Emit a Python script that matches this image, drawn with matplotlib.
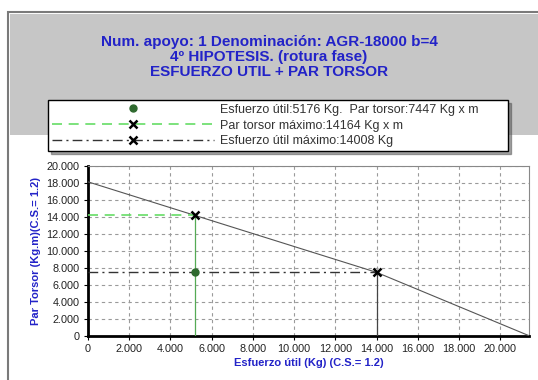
# -*- coding: UTF-8 -*-
import matplotlib
matplotlib.use('Agg')
import matplotlib.pyplot as plt
from matplotlib.patches import Rectangle
from matplotlib.lines import Line2D
from matplotlib.ticker import FuncFormatter, MultipleLocator

plt.rcParams['font.family'] = ['Liberation Sans', 'DejaVu Sans']

# datos de la curva (esfuerzo util, par torsor)
curva_x = [0, 14008, 21400]
curva_y = [18100, 7447, 0]

# punto de trabajo y maximos
esfuerzo_util = 5176
par_torsor = 7447
par_max = 14164
esfuerzo_max = 14008

titulos = ['Num. apoyo: 1 Denominación: AGR-18000 b=4',
           '4º HIPOTESIS. (rotura fase)',
           'ESFUERZO UTIL + PAR TORSOR']
etiquetas = ['Esfuerzo útil:5176 Kg.  Par torsor:7447 Kg x m',
             'Par torsor máximo:14164 Kg x m',
             'Esfuerzo útil máximo:14008 Kg']

W, H = 538, 380
fig = plt.figure(figsize=(W / 100, H / 100), dpi=100)
fig.patch.set_facecolor('white')

def fx(px):
    return px / W

def fy(py):
    return 1 - py / H

# marco y cabecera gris
fig.patches.append(Rectangle((fx(8), -0.1), 1, fy(12) + 0.1, transform=fig.transFigure,
                             facecolor='white', edgecolor='#7a7a7a', lw=1.5, zorder=-2))
fig.patches.append(Rectangle((fx(10), fy(135)), 1, fy(14) - fy(135), transform=fig.transFigure,
                             facecolor='#c6c6c6', edgecolor='none', zorder=-1))

azul = '#2323c8'
for i, t in enumerate(titulos):
    fig.text(0.5, fy(42 + 15 * i), t, ha='center', va='center', color=azul,
             fontsize=11, fontweight='bold')

# ejes
ax = fig.add_axes([fx(88), fy(335.7), fx(529) - fx(88), fy(165.7) - fy(335.7)])
ax.set_xlim(0, 21400)
ax.set_ylim(0, 20000)

ax.plot(curva_x, curva_y, color='#555555', lw=0.8, zorder=3)

# lineas auxiliares
ax.plot([0, esfuerzo_util], [par_max, par_max], color='#66dd66', lw=1.2, ls=(0, (6, 4)), zorder=3)
ax.plot([esfuerzo_util, esfuerzo_util], [0, par_max], color='#55aa55', lw=0.9, zorder=3)
ax.plot([0, esfuerzo_max], [par_torsor, par_torsor], color='#333333', lw=1.0, ls=(0, (7, 3, 1.5, 3)), zorder=3)
ax.plot([esfuerzo_max, esfuerzo_max], [0, par_torsor], color='#444444', lw=0.9, zorder=3)

ax.plot([esfuerzo_util], [par_torsor], 'o', color='#2f6a2f', ms=5, zorder=5)
ax.plot([esfuerzo_util], [par_max], 'x', color='black', ms=6, mew=1.8, zorder=5)
ax.plot([esfuerzo_max], [par_torsor], 'x', color='black', ms=6, mew=1.8, zorder=5)

ax.xaxis.set_major_locator(MultipleLocator(2000))
ax.yaxis.set_major_locator(MultipleLocator(2000))
fmt = FuncFormatter(lambda v, p: '{:,.0f}'.format(v).replace(',', '.'))
ax.xaxis.set_major_formatter(fmt)
ax.yaxis.set_major_formatter(fmt)
ax.tick_params(labelsize=7.8, labelcolor='#222222', length=3, width=0.8, pad=3)
ax.grid(True, color='#9a9a9a', ls=(0, (3, 3)), lw=0.8)

for s in ['left', 'bottom']:
    ax.spines[s].set_linewidth(2)
    ax.spines[s].set_color('black')
for s in ['top', 'right']:
    ax.spines[s].set_linewidth(0.8)
    ax.spines[s].set_color('#888888')

ax.set_xlabel('Esfuerzo útil (Kg) (C.S.= 1.2)', color=azul, fontsize=8, fontweight='bold', labelpad=3)
ax.set_ylabel('Par Torsor (Kg.m)(C.S.= 1.2)', color=azul, fontsize=8, fontweight='bold', labelpad=4)

# leyenda
handles = [Line2D([], [], ls='none', marker='o', color='#2f6a2f', ms=5),
           Line2D([], [], color='#66dd66', lw=1.2, ls=(0, (6, 4)), marker='x', mec='black', ms=6, mew=1.8),
           Line2D([], [], color='#333333', lw=1.0, ls=(0, (7, 3, 1.5, 3)), marker='x', mec='black', ms=6, mew=1.8)]
leg = fig.legend(handles, etiquetas, loc='upper left',
                 bbox_to_anchor=(fx(48), fy(153), fx(508) - fx(48), fy(100) - fy(153)),
                 mode='expand', fontsize=9, handlelength=13, handletextpad=0.45,
                 labelspacing=0.3, borderpad=0.3, borderaxespad=0, fancybox=False, shadow=True,
                 framealpha=1, edgecolor='black', numpoints=1)
leg.get_frame().set_linewidth(1)
for t in leg.get_texts():
    t.set_color('#333333')

fig.savefig('out.png', dpi=100)
